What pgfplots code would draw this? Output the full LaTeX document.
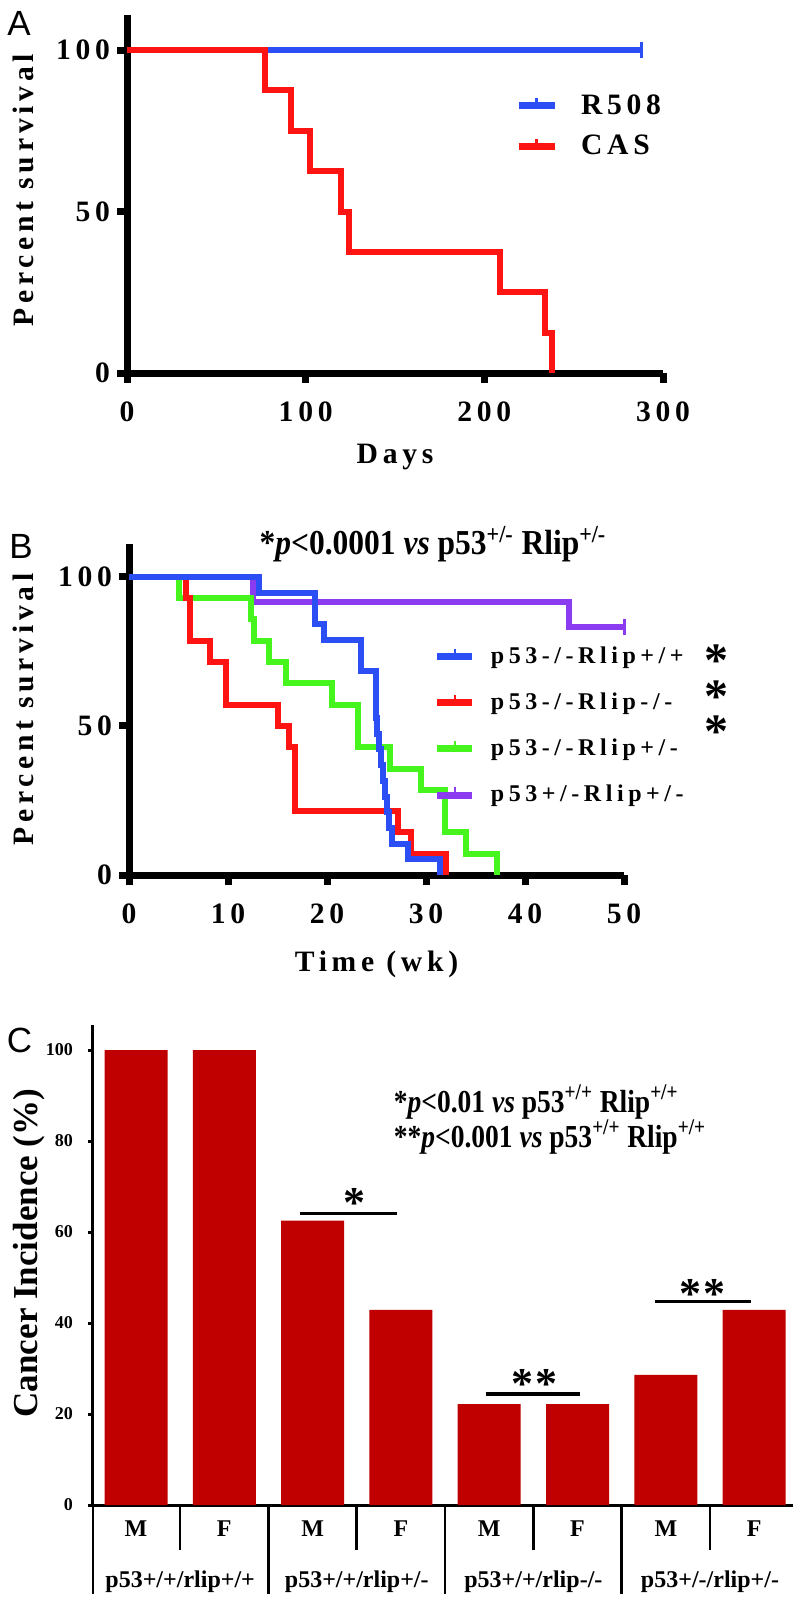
\documentclass[border=0pt]{standalone}
\usepackage{fontspec}
\usepackage{pgfplots}
\pgfplotsset{compat=1.18}
\usepackage{graphicx}
\setmainfont{Liberation Serif}
\newfontfamily\gp[LetterSpace=16]{Liberation Serif}
\newfontfamily\gpl[LetterSpace=19]{Liberation Serif}
\newfontfamily\arial{Liberation Sans}
\newcommand\ticksAB{\gp\bfseries\fontsize{14.8}{16}\selectfont}
\newcommand\legB{\gpl\bfseries\fontsize{12}{13}\selectfont}
\definecolor{cBlue}{RGB}{43,78,245}
\definecolor{cRed}{RGB}{255,20,20}
\definecolor{cGreen}{RGB}{70,245,30}
\definecolor{cPurple}{RGB}{140,60,240}
\definecolor{cBar}{RGB}{192,0,0}
\pgfplotsset{
  gp/.style={
    scale only axis, anchor=south west, clip=false,
    axis x line=bottom, axis y line=left,
    axis line style={line width=3.5pt,-},
    x axis line style={-}, y axis line style={-},
    every outer x axis line/.append style={-}, every outer y axis line/.append style={-},
    every inner x axis line/.append style={-}, every inner y axis line/.append style={-},
    tick align=outside, major tick length=5pt,
    tick style={line width=3.5pt, black},
    /pgf/number format/assume math mode=true,
    ticklabel style={font=\ticksAB},
    xticklabel style={yshift=-6pt},
    label style={font=\ticksAB},
    xlabel style={anchor=center},
    ylabel style={anchor=center},
  }
}
\begin{document}
\begin{tikzpicture}
\useasboundingbox (0pt,0pt) rectangle (396.5pt,-803pt);
% ---------------- Panel A ----------------
\begin{axis}[gp,
  at={(63.5pt,-186.5pt)}, width=268pt, height=179.25pt,
  xmin=0, xmax=300, ymin=0, ymax=111,
  xtick={0,100,200,300}, ytick={0,50,100},
  xlabel={Days}, ylabel={Percent survival},
  xlabel style={at={(axis description cs:0.5,-0.234)}},
  ylabel style={at={(axis description cs:-0.194,0.51)}},
  legend style={at={(axis description cs:0.712,0.80)}, anchor=north west,
    draw=none, fill=none, font=\ticksAB, row sep=5pt, column sep=9.5pt,
    legend cell align=left},
  legend image code/.code={\draw[#1,line width=3.5pt] (0pt,0pt) -- (18pt,0pt);
    \draw[#1,line width=1.2pt] (9pt,0pt) -- (9pt,4pt);},
]
\addplot[const plot, line width=3pt, color=cBlue, mark=|, mark indices={2},
  mark size=4pt, mark options={line width=1.5pt}]
  coordinates {(0,100) (288,100)};
\addlegendentry{R508}
\addplot[const plot, line width=3pt, color=cRed]
  coordinates {(0,100) (77,87.5) (92,75) (102.5,62.5) (120,50) (124.5,37.5) (209,25) (234,12.5) (238,0)};
\addlegendentry{CAS}
\end{axis}
% ---------------- Panel B ----------------
\begin{axis}[gp,
  at={(64.5pt,-437.5pt)}, width=247.5pt, height=165.5pt,
  xmin=0, xmax=50, ymin=0, ymax=111,
  xtick={0,10,20,30,40,50}, ytick={0,50,100},
  xlabel={Time (wk)}, ylabel={Percent survival},
  xlabel style={at={(axis description cs:0.5,-0.269)}},
  ylabel style={at={(axis description cs:-0.214,0.5)}},
  reverse legend,
  legend style={at={(axis description cs:0.603,0.715)}, anchor=north west,
    draw=none, fill=none, font=\legB, row sep=9.25pt, column sep=7pt,
    legend cell align=left, nodes={inner ysep=2pt, inner xsep=0.5pt}},
  legend image code/.code={\draw[#1,line width=3.5pt] (0pt,0pt) -- (17.5pt,0pt);
    \draw[#1,line width=1.2pt] (8.75pt,0pt) -- (8.75pt,4pt);},
]
\addplot[const plot, line width=3pt, color=cPurple, mark=|, mark indices={4},
  mark size=4pt, mark options={line width=1.5pt}]
  coordinates {(0,100) (12.5,91.7) (44.4,83.3) (50,83.3)};
\addlegendentry{p53+/-Rlip+/-}
\addplot[const plot, line width=3pt, color=cGreen]
  coordinates {(0,100) (5.0,92.9) (12.3,85.7) (12.6,78.6) (14.1,71.4) (15.9,64.3) (20.5,57.1) (23.1,42.9) (26.4,35.7) (29.5,28.6) (31.9,14.3) (34.0,7.1) (37.2,0)};
\addlegendentry{p53-/-Rlip+/-}
\addplot[const plot, line width=3pt, color=cRed]
  coordinates {(0,100) (5.8,92.9) (6.2,78.6) (8.2,71.4) (9.8,57.1) (15.0,50) (16.2,42.9) (16.8,21.4) (27.2,14.3) (28.5,7.1) (32.0,0)};
\addlegendentry{p53-/-Rlip-/-}
\addplot[const plot, line width=3pt, color=cBlue]
  coordinates {(0,100) (13.1,94.7) (18.8,84.2) (19.7,78.9) (23.4,68.4) (24.9,52.6) (25.1,47.4) (25.3,42.1) (25.5,36.8) (25.7,31.6) (25.9,26.3) (26.1,21.1) (26.3,15.8) (26.6,10.5) (28.2,5.3) (31.4,0)};
\addlegendentry{p53-/-Rlip+/+}
\node[anchor=center] at (axis description cs:0.614,1.0)
  {\bfseries\fontsize{17.5}{20}\selectfont\scalebox{0.9}[1]{*\textit{p}<0.0001 \textit{vs} p53\textsuperscript{+/-} Rlip\textsuperscript{+/-}}};
\node[inner sep=0pt, font=\bfseries\fontsize{24}{24}\selectfont] at (axis cs:59.3,71.9) {*};
\node[inner sep=0pt, font=\bfseries\fontsize{24}{24}\selectfont] at (axis cs:59.3,59.9) {*};
\node[inner sep=0pt, font=\bfseries\fontsize{24}{24}\selectfont] at (axis cs:59.3,48.1) {*};
\end{axis}
% ---------------- Panel C ----------------
\begin{axis}[
  scale only axis, anchor=south west, clip=false,
  at={(46.5pt,-752.5pt)}, width=350pt, height=240pt,
  xmin=-0.487, xmax=7.44, ymin=0, ymax=105.5,
  axis x line=bottom, axis y line=left,
  axis line style={line width=1.5pt,-},
  x axis line style={-}, y axis line style={-},
  every outer x axis line/.append style={-}, every outer y axis line/.append style={-},
  every inner x axis line/.append style={-}, every inner y axis line/.append style={-},
  ybar, bar width=31.5pt,
  ytick={0,20,40,60,80,100},
  xtick={0,1,2,3,4,5,6,7}, xticklabels={M,F,M,F,M,F,M,F},
  x tick style={draw=none},
  y tick style={line width=1.5pt, black},
  major tick length=2.5pt, tick align=outside,
  /pgf/number format/assume math mode=true,
  yticklabel style={font=\bfseries\fontsize{9}{10}\selectfont, xshift=-4pt},
  xticklabel style={font=\bfseries\fontsize{12}{14}\selectfont, yshift=-2pt},
  ylabel={Cancer Incidence (\%)},
  ylabel style={at={(axis description cs:-0.0914,0.525)}, anchor=center,
    font=\bfseries\fontsize{17.5}{20}\selectfont},
]
\addplot[fill=cBar, draw=none]
  coordinates {(0,100) (1,100) (2,62.5) (3,42.9) (4,22.2) (5,22.2) (6,28.6) (7,42.9)};
% separators below the axis
\draw[line width=1.3pt] (axis cs:-0.487,0) -- ++(0pt,-44.5pt);
\draw[line width=1.3pt] (axis cs:1.5,0) -- ++(0pt,-44.5pt);
\draw[line width=1.3pt] (axis cs:3.5,0) -- ++(0pt,-44.5pt);
\draw[line width=1.3pt] (axis cs:5.5,0) -- ++(0pt,-44.5pt);
\draw[line width=1.3pt] (axis cs:0.5,0) -- ++(0pt,-22.5pt);
\draw[line width=1.3pt] (axis cs:2.5,0) -- ++(0pt,-22.5pt);
\draw[line width=1.3pt] (axis cs:4.5,0) -- ++(0pt,-22.5pt);
\draw[line width=1.3pt] (axis cs:6.5,0) -- ++(0pt,-22.5pt);
\node[font=\bfseries\fontsize{12}{14}\selectfont] at ([yshift=-38.5pt]axis cs:0.5,0) {p53+/+/rlip+/+};
\node[font=\bfseries\fontsize{12}{14}\selectfont] at ([yshift=-38.5pt]axis cs:2.5,0) {p53+/+/rlip+/-};
\node[font=\bfseries\fontsize{12}{14}\selectfont] at ([yshift=-38.5pt]axis cs:4.5,0) {p53+/+/rlip-/-};
\node[font=\bfseries\fontsize{12}{14}\selectfont] at ([yshift=-38.5pt]axis cs:6.5,0) {p53+/-/rlip+/-};
% significance
\draw[line width=1.8pt] (axis cs:1.86,64.1) -- (axis cs:2.95,64.1);
\draw[line width=1.8pt] (axis cs:3.96,24.4) -- (axis cs:5.03,24.4);
\draw[line width=1.8pt] (axis cs:5.88,44.7) -- (axis cs:6.96,44.7);
\node[font=\bfseries\fontsize{22}{22}\selectfont] at (axis cs:2.47,66.3) {*};
\node[font=\bfseries\fontsize{22}{22}\selectfont] at (axis cs:4.51,26.5) {*\hspace{1pt}*};
\node[font=\bfseries\fontsize{22}{22}\selectfont] at (axis cs:6.42,46.4) {*\hspace{1pt}*};
\node[anchor=west, font=\bfseries\fontsize{16}{18}\selectfont] at (axis cs:2.84,88.6)
  {\scalebox{0.86}[1]{*\textit{p}<0.01 \textit{vs} p53\textsuperscript{+/+} Rlip\textsuperscript{+/+}}};
\node[anchor=west, font=\bfseries\fontsize{16}{18}\selectfont] at (axis cs:2.84,80.9)
  {\scalebox{0.86}[1]{**\textit{p}<0.001 \textit{vs} p53\textsuperscript{+/+} Rlip\textsuperscript{+/+}}};
\end{axis}
% panel letters
\node[font=\arial\fontsize{17.5}{20}\selectfont] at (9.5pt,-11.5pt) {A};
\node[font=\arial\fontsize{17.5}{20}\selectfont] at (10.5pt,-273pt) {B};
\node[font=\arial\fontsize{17.5}{20}\selectfont] at (9.75pt,-520pt) {C};
\end{tikzpicture}
\end{document}
